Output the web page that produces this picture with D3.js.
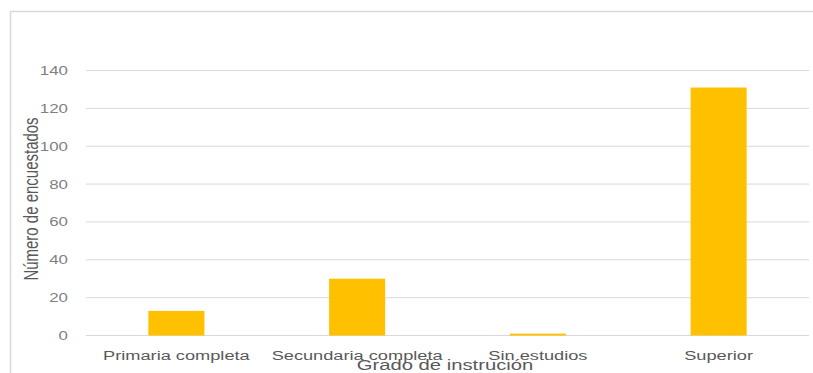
<!DOCTYPE html>
<html>
<head>
<meta charset="utf-8">
<script src="https://cdn.jsdelivr.net/npm/d3@7"></script>
<style>
  html, body { margin: 0; padding: 0; background: #fff; }
  svg { display: block; }
  text { font-family: "Liberation Sans", Arial, sans-serif; }
</style>
</head>
<body>
<svg id="chart" width="813" height="373"></svg>
<script>
// Survey respondents by education level
const categories = ["Primaria completa", "Secundaria completa", "Sin estudios", "Superior"];
const counts = [13, 30, 1, 131];
const yTicks = [0, 20, 40, 60, 80, 100, 120, 140];
const xTitle = "Grado de instrución";
const yTitle = "Número de encuestados";

const W = 813, H = 373;
const stretch = 1.35; // horizontal text stretch
const plot = { left: 86, right: 809, top: 70.5, bottom: 335.5 };

const svg = d3.select("#chart");

// chart frame
svg.append("rect")
  .attr("x", 10.5).attr("y", 11.5)
  .attr("width", W + 10).attr("height", H + 10)
  .attr("fill", "#fff")
  .attr("stroke", "#d9d9d9").attr("stroke-width", 1.5);

const x = d3.scaleBand()
  .domain(categories)
  .range([plot.left, plot.right])
  .paddingInner(0.69)
  .paddingOuter(0.345);

const y = d3.scaleLinear()
  .domain([0, 140])
  .range([plot.bottom, plot.top]);

// gridlines
svg.append("g")
  .selectAll("line")
  .data(yTicks)
  .join("line")
  .attr("x1", plot.left).attr("x2", plot.right)
  .attr("y1", d => y(d)).attr("y2", d => y(d))
  .attr("stroke", "#d9d9d9").attr("stroke-width", 1);

// y tick labels
svg.append("g")
  .selectAll("text")
  .data(yTicks)
  .join("text")
  .attr("transform", d => `translate(68,${y(d) + 4.5}) scale(${stretch},1)`)
  .attr("text-anchor", "end")
  .attr("font-size", 12.5)
  .attr("fill", "#7f7f7f")
  .text(d => d);

// bars
svg.append("g")
  .selectAll("rect")
  .data(categories)
  .join("rect")
  .attr("x", d => x(d))
  .attr("width", x.bandwidth())
  .attr("y", (d, i) => y(counts[i]))
  .attr("height", (d, i) => y(0) - y(counts[i]))
  .attr("fill", "#ffc000");

// category labels
svg.append("g")
  .selectAll("text")
  .data(categories)
  .join("text")
  .attr("transform", d => `translate(${x(d) + x.bandwidth() / 2},360) scale(${stretch},1)`)
  .attr("text-anchor", "middle")
  .attr("font-size", 13.5)
  .attr("fill", "#595959")
  .text(d => d);

// axis titles
svg.append("text")
  .attr("transform", `translate(445,370) scale(${stretch},1)`)
  .attr("text-anchor", "middle")
  .attr("font-size", 15)
  .attr("fill", "#595959")
  .text(xTitle);

svg.append("text")
  .attr("transform", `translate(38,199) scale(${stretch},1) rotate(-90)`)
  .attr("text-anchor", "middle")
  .attr("font-size", 15)
  .attr("fill", "#595959")
  .text(yTitle);
</script>
</body>
</html>
